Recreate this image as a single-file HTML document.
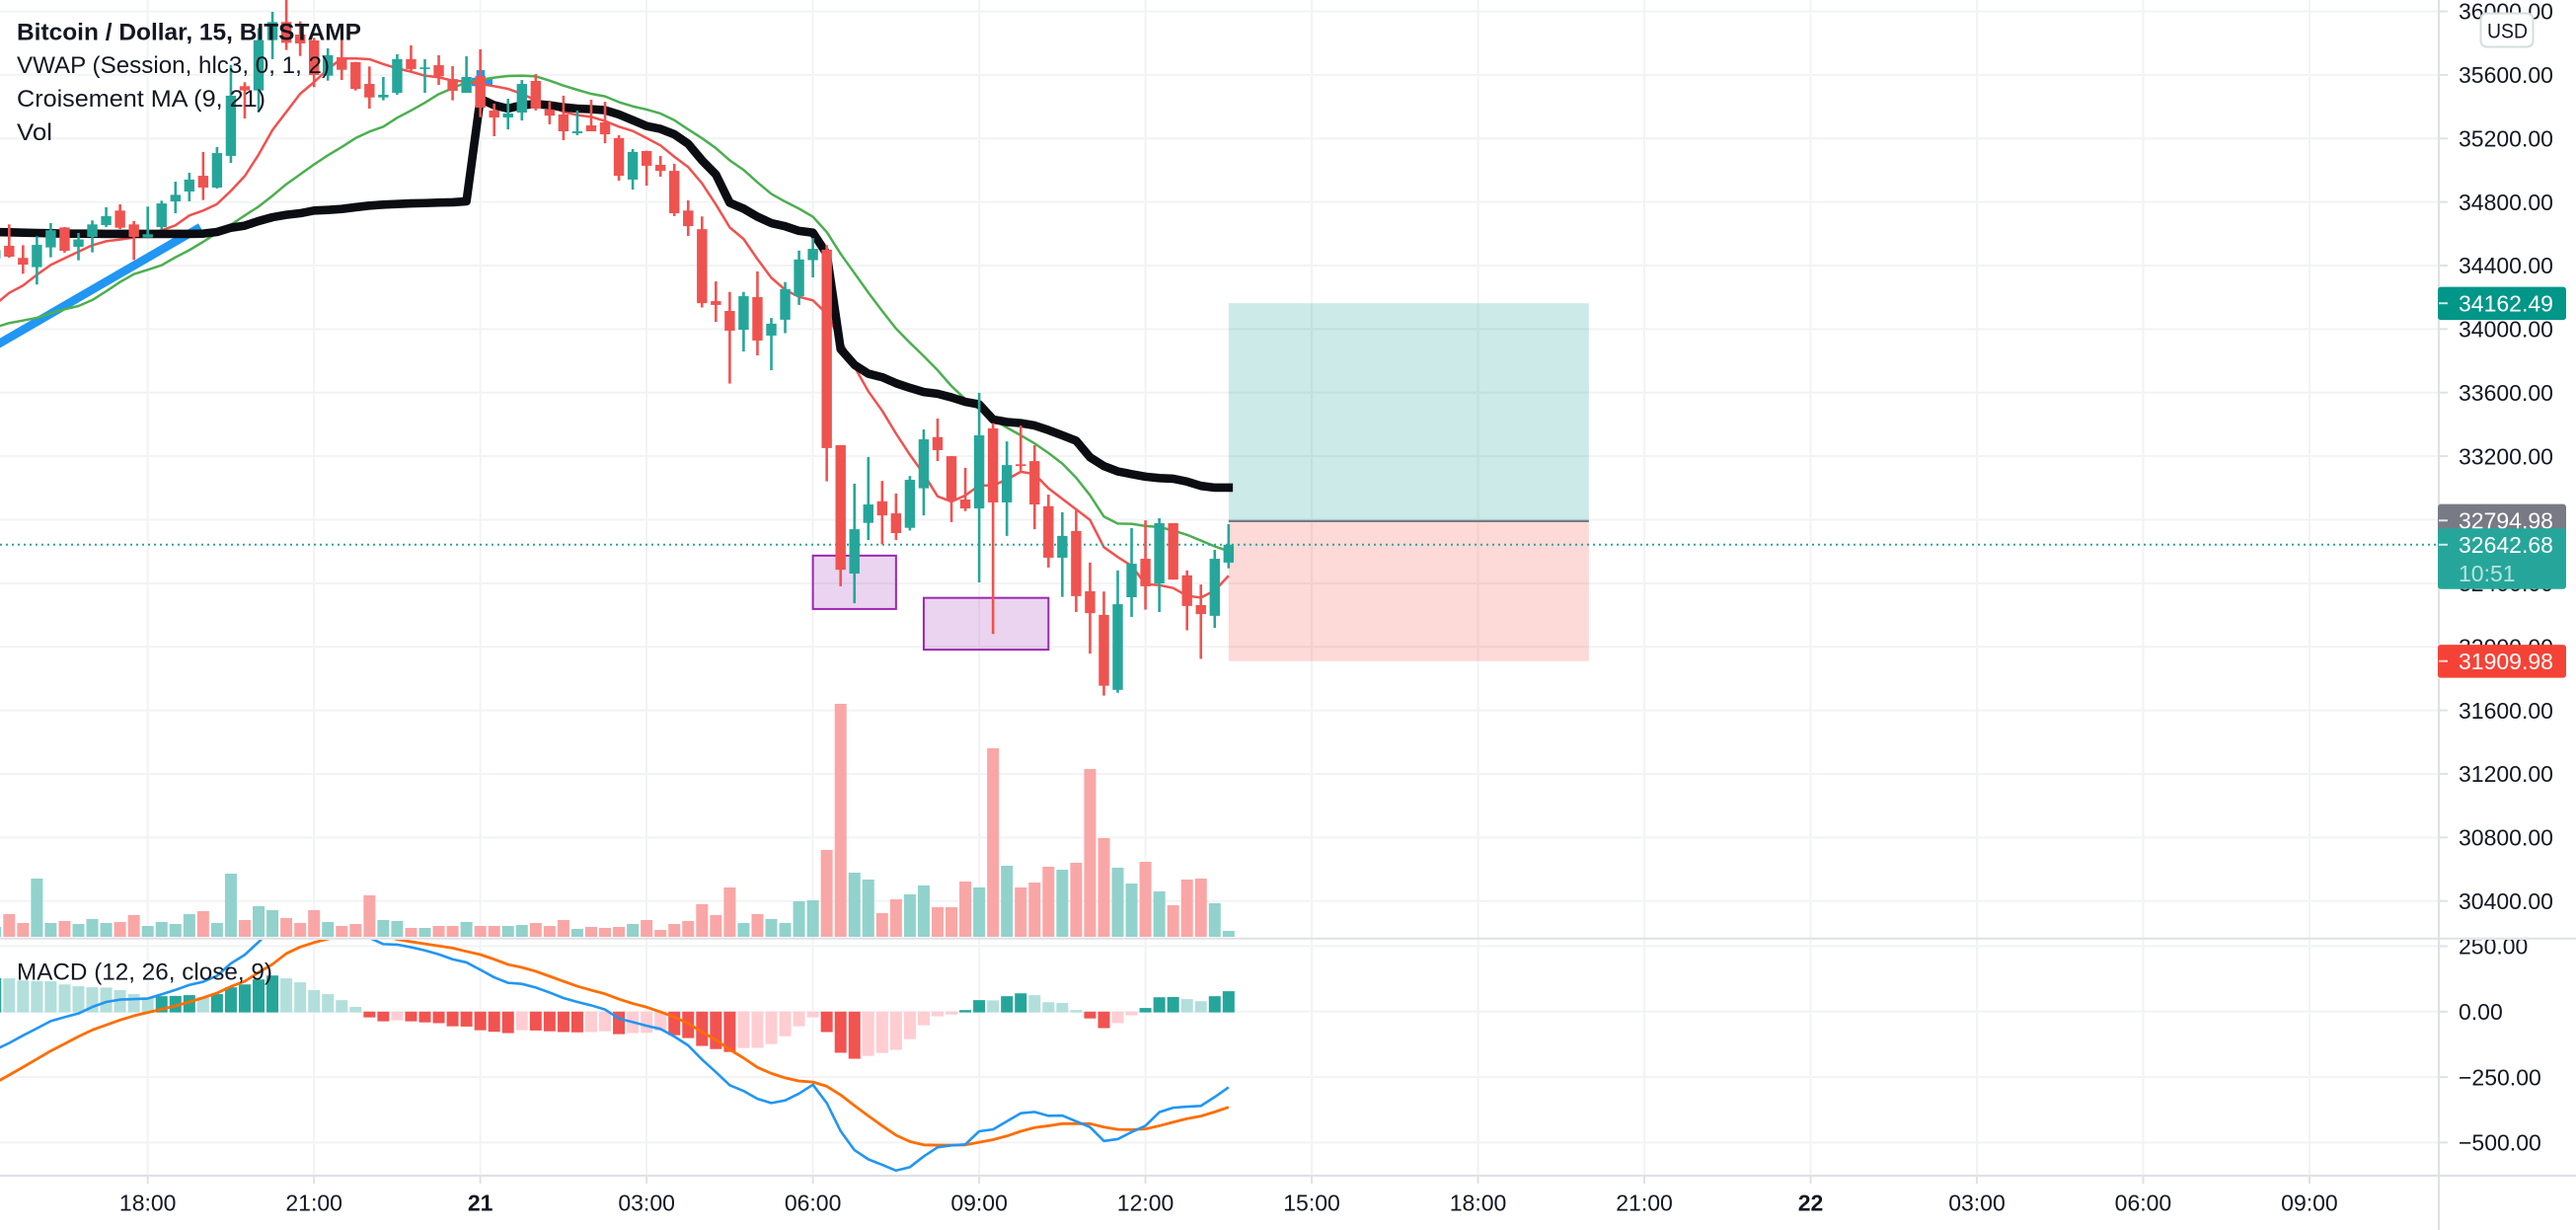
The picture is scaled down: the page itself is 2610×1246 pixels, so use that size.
<!DOCTYPE html>
<html lang="en">
<head>
<meta charset="utf-8">
<title>Bitcoin / Dollar, 15, BITSTAMP</title>
<style>
html,body{margin:0;padding:0;width:2610px;height:1246px;overflow:hidden;background:#ffffff;}
svg{display:block;position:absolute;left:0;top:0;}
text{font-family:"Liberation Sans",Arial,sans-serif;fill:#131722;}
</style>
</head>
<body>
<svg id="chart" xmlns="http://www.w3.org/2000/svg" width="2610" height="1246" viewBox="0 0 2610 1246">
  <defs>
    <clipPath id="clip-price"><rect x="0" y="0" width="2470" height="950"/></clipPath>
    <clipPath id="clip-macd"><rect x="0" y="952" width="2470" height="238"/></clipPath>
    <clipPath id="clip-macd-labels"><rect x="2472" y="952" width="138" height="238"/></clipPath>
  </defs>
  <rect x="0" y="0" width="2610" height="1246" fill="#ffffff"/>
  <g id="grid"></g>
  <g id="price-pane" clip-path="url(#clip-price)"></g>
  <g id="macd-pane" clip-path="url(#clip-macd)"></g>
  <g id="axes"></g>
  <g id="legend">
    <text x="17" y="40.5" font-size="24" font-weight="700" textLength="349" lengthAdjust="spacingAndGlyphs">Bitcoin / Dollar, 15, BITSTAMP</text>
    <text x="17" y="74" font-size="24" textLength="317" lengthAdjust="spacingAndGlyphs">VWAP (Session, hlc3, 0, 1, 2)</text>
    <text x="17" y="108" font-size="24" textLength="252" lengthAdjust="spacingAndGlyphs">Croisement MA (9, 21)</text>
    <text x="17" y="142" font-size="24" textLength="36" lengthAdjust="spacingAndGlyphs">Vol</text>
    <text x="17" y="992.5" font-size="24" textLength="259" lengthAdjust="spacingAndGlyphs">MACD (12, 26, close, 9)</text>
  </g>
  <g id="price-badges"></g>
  <g>
    <rect x="2513.5" y="13.5" width="53" height="34" rx="6" fill="#ffffff" stroke="#d5dede" stroke-width="2"/>
    <text x="2520" y="38.5" font-size="21" textLength="41" lengthAdjust="spacingAndGlyphs">USD</text>
  </g>
</svg>
<script>
// ---- Chart data (first bar is 11 bars before 18:00, 15-minute bars) ----
const opens = [
34445,34524,34448,34390,34514,34640,34518,34580,34655,34746,
34659,34576,34642,34804,34866,34965,34891,35090,35529,35502,
35819,35933,35854,35817,35595,35711,35680,35543,35458,35487,
35699,35637,35661,35574,35487,35593,35376,35332,35363,35562,
35382,35351,35233,35282,35301,35202,34941,35121,35034,34996,
34746,34629,34176,34114,33996,34201,33959,34059,34207,34434,
34500,33269,32461,32780,32916,32840,32749,32998,33320,33200,
32927,32871,33375,32909,33149,33169,32885,32561,32729,32350,
32201,31729,32312,32554,32399,32778,32450,32263,32195,32530];
const highs = [
34520,34659,34528,34584,34667,34642,34605,34684,34767,34785,
34680,34771,34808,34928,34984,35115,35146,35663,35554,35895,
35997,36120,35937,35833,35767,35833,35682,35653,35587,35730,
35786,35699,35724,35655,35717,35761,35419,35450,35568,35605,
35431,35469,35376,35444,35431,35220,35133,35123,35090,35040,
34810,34709,34300,34234,34234,34363,34070,34296,34494,34573,
34529,33269,33027,33195,33044,32965,33075,33368,33437,33200,
33127,33599,33408,33293,33393,33269,32958,32847,32858,32530,
32348,32481,32747,32796,32809,32778,32481,32392,32610,32772];
const lows = [
34430,34450,34348,34280,34452,34481,34433,34483,34642,34630,
34435,34576,34630,34729,34804,34812,34885,35046,35326,35363,
35699,35757,35719,35523,35564,35568,35502,35388,35440,35475,
35626,35487,35537,35440,35487,35334,35214,35257,35313,35376,
35289,35189,35220,35245,35170,34934,34878,34903,34959,34711,
34586,34136,34045,33657,33859,33834,33741,33974,34152,34325,
33042,32381,32274,32672,32645,32672,32732,32827,33169,32785,
32854,32405,32081,32698,33109,32740,32499,32314,32219,31957,
31693,31711,32188,32234,32219,32423,32104,31924,32119,32494];
const closes = [
34497,34456,34406,34530,34622,34493,34564,34659,34711,34638,
34580,34597,34791,34845,34941,34891,35108,35469,35502,35819,
35933,35802,35798,35599,35724,35632,35512,35458,35475,35699,
35637,35647,35591,35500,35587,35394,35332,35357,35543,35388,
35344,35245,35245,35245,35226,34965,35115,35028,34996,34729,
34648,34163,34152,33990,34207,33928,34034,34252,34438,34505,
33251,32485,32740,32896,32827,32716,33051,33306,33238,32920,
32871,33331,32909,33144,33138,32896,32561,32698,32319,32212,
31755,32268,32523,32381,32778,32423,32257,32206,32554,32642.68];
const ma9Values = [
34156,34228,34274,34342,34404,34446,34487,34528,34553,34564,
34576,34597,34622,34653,34715,34746,34787,34870,34963,35098,
35253,35367,35481,35554,35637,35703,35703,35699,35668,35641,
35620,35595,35585,35564,35558,35543,35529,35512,35481,35440,
35405,35367,35347,35336,35309,35274,35247,35202,35156,35085,
35020,34917,34784,34640,34567,34440,34323,34247,34203,34181,
34096,33930,33763,33608,33486,33342,33209,33087,32947,32914,
32953,33016,33016,33053,33102,33087,32998,32931,32865,32798,
32627,32565,32510,32394,32388,32370,32321,32310,32354,32447];
const ma21Values = [
34011,34038,34054,34071,34100,34125,34145,34183,34238,34296,
34346,34373,34402,34452,34497,34549,34605,34657,34715,34771,
34839,34912,34974,35036,35094,35146,35202,35243,35274,35330,
35376,35425,35479,35516,35554,35568,35583,35593,35595,35591,
35564,35533,35506,35481,35465,35429,35402,35382,35357,35315,
35257,35201,35139,35062,35002,34924,34851,34802,34758,34707,
34611,34474,34352,34230,34114,34003,33914,33830,33741,33641,
33559,33497,33431,33380,33331,33280,33220,33153,33064,32954,
32820,32776,32774,32760,32754,32732,32705,32669,32632,32603];
const vwapValues = [
34611,34609,34607,34605,34603,34601,34601,34601,34599,34599,
34599,34599,34599,34599,34599,34601,34611,34638,34651,34680,
34704,34719,34729,34746,34750,34756,34767,34777,34783,34787,
34791,34793,34796,34798,34804,35450,35409,35388,35409,35417,
35409,35396,35388,35384,35378,35351,35315,35278,35260,35226,
35166,35062,34973,34795,34758,34707,34667,34647,34618,34607,
34474,33874,33775,33719,33697,33659,33630,33604,33593,33570,
33542,33526,33431,33415,33408,33393,33364,33331,33297,33193,
33138,33104,33087,33071,33062,33058,33040,33013,33002,33002];
const volumeValues = [
10,23,14,59,14,16,13,18,14,15,
22,11,15,13,23,26,14,64,17,31,
27,19,14,27,15,11,13,42,17,16,
9,9,11,11,15,11,11,11,12,14,
11,17,8,10,9,10,13,17,7,13,
16,33,22,50,14,23,18,14,36,37,
88,236,65,58,24,38,43,52,30,30,
56,50,191,72,50,55,71,68,75,170,
100,70,54,76,46,32,58,59,34,6];
const macdValues = [
-145,-120,-91,-64,-36,-21,-7,18,37,46,
48,50,66,83,102,114,137,184,217,266,
320,357,383,389,376,351,320,282,258,256,
246,234,219,200,188,160,131,110,106,92,
73,52,37,24,8,-26,-40,-54,-66,-95,
-129,-183,-231,-281,-303,-333,-349,-339,-313,-279,
-349,-456,-529,-564,-585,-607,-594,-553,-518,-511,
-507,-457,-450,-419,-388,-383,-398,-397,-419,-441,
-494,-487,-460,-436,-384,-367,-363,-360,-326,-289];
const signalValues = [
-272,-242,-212,-181,-150,-123,-95,-70,-51,-32,
-16,-3,9,22,37,53,71,96,116,150,
181,222,247,264,278,288,295,297,291,276,
267,259,251,243,230,218,200,180,169,154,
135,116,97,82,68,48,31,17,-1,-21,
-45,-78,-108,-145,-177,-213,-236,-253,-265,-269,
-285,-318,-359,-398,-436,-472,-496,-509,-510,-510,
-509,-499,-489,-475,-457,-443,-436,-428,-428,-428,
-441,-450,-451,-448,-436,-422,-409,-399,-383,-365];
const histogramValues = [
128,127,119,117,116,104,97,93,92,82,
67,55,59,60,63,55,67,93,104,123,
138,127,112,82,67,44,18,-19,-34,-30,
-34,-38,-41,-53,-54,-68,-74,-79,-68,-69,
-72,-75,-76,-75,-72,-83,-79,-78,-70,-87,
-98,-128,-140,-151,-136,-135,-121,-91,-53,-19,
-75,-154,-177,-166,-155,-143,-102,-49,-15,-8,
6,44,43,59,70,63,36,33,6,-23,
-60,-41,-11,14,55,56,48,40,59,78];

const priceTicks = [36000,35600,35200,34800,34400,34000,33600,33200,32800,32400,32000,31600,31200,30800,30400];
const macdTicks = [250,0,-250,-500];
const timeLabels = ['18:00','21:00','21','03:00','06:00','09:00','12:00','15:00','18:00','21:00','22','03:00','06:00','09:00'];

// Long position drawing (bar offsets from the 18:00 bar, prices)
const positionBars = [78,104];
const positionTarget = 34162.49;
const positionEntry = 32794.98;
const positionStop = 31909.98;
// Highlight boxes: [startBar, endBar, topPrice, bottomPrice]
const boxDrawings = [[48,54,32574,32238],[56,65,32308,31982]];
// Blue trend drawing: [bar1, price1, bar2, price2]
const trendDrawings = [[-10.8,33905,3.8,34642],[23.38,35556,24.88,35556],[24.02,35630,24.02,35575]];

// ---- Axis functions ----
const FIRST_BAR = -11;
function barX(k){ return 149.7 + 14.04 * k; }
function indexX(i){ return barX(i + FIRST_BAR); }
function priceY(p){ return 11.5 + (36000 - p) * 0.16093; }
function macdY(v){ return 1024.8 - v * 0.2652; }
function volumeY(v){ return 949 - v; }

const NS = 'http://www.w3.org/2000/svg';
function make(parent, tag, attrs){
  const el = document.createElementNS(NS, tag);
  for (const key in attrs) el.setAttribute(key, attrs[key]);
  parent.appendChild(el);
  return el;
}
function points(values, xf, yf){
  return values.map((v, i) => xf(i).toFixed(2) + ',' + yf(v).toFixed(2)).join(' ');
}

const gridG = document.getElementById('grid');
const priceG = document.getElementById('price-pane');
const macdG = document.getElementById('macd-pane');
const axesG = document.getElementById('axes');
const badgesG = document.getElementById('price-badges');
const GRID = '#f2f3f4';
const AXIS = '#dfe1e5';
const UP = '#26a69a';
const DOWN = '#ef5350';

// Grid
priceTicks.forEach(function(p){
  const l = make(gridG, 'line', {x1:0, x2:2471, y1:priceY(p), y2:priceY(p), stroke:GRID, 'stroke-width':2});
  
  
});
macdTicks.forEach(function(v){
  const l = make(gridG, 'line', {x1:0, x2:2471, y1:macdY(v), y2:macdY(v), stroke:GRID, 'stroke-width':2});
  
  
});
timeLabels.forEach(function(t, i){
  const x = barX(i * 12);
  const l = make(gridG, 'line', {x1:x, x2:x, y1:0, y2:1191, stroke:GRID, 'stroke-width':2});
  
  
});

// Volume bars
volumeValues.forEach(function(v, i){
  const up = closes[i] >= opens[i];
  const r = make(priceG, 'rect', {x:indexX(i) - 6, y:volumeY(v), width:12, height:v, fill: up ? '#92d2cc' : '#f9a7a6'});
  
  
});

// Position drawing
const posX = barX(positionBars[0]);
const posW = barX(positionBars[1]) - posX;
const profit = make(priceG, 'rect', {x:posX, y:priceY(positionTarget), width:posW, height:priceY(positionEntry) - priceY(positionTarget), fill:'rgba(0,150,136,0.2)'});


const loss = make(priceG, 'rect', {x:posX, y:priceY(positionEntry), width:posW, height:priceY(positionStop) - priceY(positionEntry), fill:'rgba(244,67,54,0.2)'});


const entry = make(priceG, 'line', {x1:posX, x2:posX + posW, y1:priceY(positionEntry) + 0.6, y2:priceY(positionEntry) + 0.6, stroke:'#787b86', 'stroke-width':2.2});



// Box drawings
boxDrawings.forEach(function(b){
  const r = make(priceG, 'rect', {x:barX(b[0]), y:priceY(b[2]), width:barX(b[1]) - barX(b[0]), height:priceY(b[3]) - priceY(b[2]), fill:'rgba(156,39,176,0.2)', stroke:'#9c27b0', 'stroke-width':2});
  
  
});

// Trend drawings
trendDrawings.forEach(function(t){
  const l = make(priceG, 'line', {x1:barX(t[0]), y1:priceY(t[1]), x2:barX(t[2]), y2:priceY(t[3]), stroke:'#2196f3', 'stroke-width':8.5});
  
  
});

// Moving averages
const ma21Line = make(priceG, 'polyline', {points:points(ma21Values, indexX, priceY), fill:'none', stroke:'#4caf50', 'stroke-width':2.5, 'stroke-linejoin':'round'});


const ma9Line = make(priceG, 'polyline', {points:points(ma9Values, indexX, priceY), fill:'none', stroke:'#f0524f', 'stroke-width':2.5, 'stroke-linejoin':'round'});



// VWAP
const vwapLine = make(priceG, 'polyline', {points:points(vwapValues, indexX, priceY), fill:'none', stroke:'#0c0d12', 'stroke-width':8.6, 'stroke-linejoin':'round', 'stroke-linecap':'square'});



// Last price line
const lastLine = make(priceG, 'line', {x1:0, x2:2470, y1:priceY(closes[closes.length - 1]), y2:priceY(closes[closes.length - 1]), stroke:UP, 'stroke-width':2, 'stroke-dasharray':'2 4'});



// Candles
opens.forEach(function(o, i){
  const c = closes[i];
  const up = c >= o;
  const color = up ? UP : DOWN;
  const x = indexX(i);
  const top = priceY(Math.max(o, c));
  const bottom = priceY(Math.min(o, c));
  const wick = make(priceG, 'rect', {x:x - 1.3, y:priceY(highs[i]), width:2.6, height:priceY(lows[i]) - priceY(highs[i]), fill:color});
  
  
  const body = make(priceG, 'rect', {x:x - 5.2, y:top, width:10.4, height:Math.max(bottom - top, 1.5), fill:color});
  
  
});

// MACD histogram
histogramValues.forEach(function(v, i){
  const prev = i === 0 ? v - 1 : histogramValues[i - 1];
  let color;
  if (v >= 0) { color = v > prev ? '#26a69a' : '#b2dfdb'; }
  else { color = v < prev ? '#f15351' : '#ffcdd2'; }
  const y = v >= 0 ? macdY(v) : macdY(0);
  const r = make(macdG, 'rect', {x:indexX(i) - 6, y:y, width:12, height:Math.abs(v) * 0.2652 + 0.8, fill:color});
  
  
});
const signalLine = make(macdG, 'polyline', {points:points(signalValues, indexX, macdY), fill:'none', stroke:'#ff6d00', 'stroke-width':2.8, 'stroke-linejoin':'round'});


const macdLine = make(macdG, 'polyline', {points:points(macdValues, indexX, macdY), fill:'none', stroke:'#2196f3', 'stroke-width':2.6, 'stroke-linejoin':'round'});



// Axes
const sep = make(axesG, 'line', {x1:0, x2:2610, y1:950.8, y2:950.8, stroke:AXIS, 'stroke-width':2});


const bottomAxis = make(axesG, 'line', {x1:0, x2:2610, y1:1191, y2:1191, stroke:AXIS, 'stroke-width':2.2});


const rightAxis = make(axesG, 'line', {x1:2471, x2:2471, y1:0, y2:1246, stroke:AXIS, 'stroke-width':2.2});



priceTicks.forEach(function(p){
  const y = priceY(p);
  const tick = make(axesG, 'line', {x1:2471, x2:2480, y1:y, y2:y, stroke:AXIS, 'stroke-width':2});
  
  
  const label = make(axesG, 'text', {x:2491, y:y + 8.2, 'font-size':23});
  
  
  label.textContent = p.toFixed(2);
});
const macdLabels = make(axesG, 'g', {'clip-path':'url(#clip-macd-labels)'});


macdTicks.forEach(function(v){
  const y = macdY(v);
  const tick = make(axesG, 'line', {x1:2471, x2:2480, y1:y, y2:y, stroke:AXIS, 'stroke-width':2});
  
  
  const label = make(macdLabels, 'text', {x:2491, y:y + 8.2, 'font-size':23});
  
  
  label.textContent = (v < 0 ? '\u2212' : '') + Math.abs(v).toFixed(2);
});
timeLabels.forEach(function(t, i){
  const x = barX(i * 12);
  const tick = make(axesG, 'line', {x1:x, x2:x, y1:1191, y2:1199, stroke:AXIS, 'stroke-width':2});
  
  
  const attrs = {x:x, y:1226.5, 'font-size':23, 'text-anchor':'middle'};
  if (t.length === 2) attrs['font-weight'] = 700;
  const label = make(axesG, 'text', attrs);
  
  
  label.textContent = t;
});

// Price badges
function badge(price, fill, name, height){
  const y = priceY(price);
  const top = y - 16.6;
  const r = make(badgesG, 'rect', {x:2470, y:top, width:130, height:height, rx:3, fill:fill});
  
  
  const t = make(badgesG, 'line', {x1:2471, x2:2480, y1:y, y2:y, stroke:'rgba(255,255,255,0.8)', 'stroke-width':2});
  
  
  const label = make(badgesG, 'text', {x:2491, y:y + 8.2, 'font-size':23, style:'fill:#ffffff'});
  
  
  label.textContent = price.toFixed(2);
}
badge(positionTarget, '#009688', 'target-price', 33.5);
badge(positionEntry, '#787b86', 'entry-price', 34);
badge(closes[closes.length - 1], '#26a69a', 'last-price', 61.5);
const countdown = make(badgesG, 'text', {x:2491, y:589, 'font-size':23, style:'fill:rgba(255,255,255,0.68)'});


countdown.textContent = '10:51';
badge(positionStop, '#f44336', 'stop-price', 33.5);
</script>
</body>
</html>
